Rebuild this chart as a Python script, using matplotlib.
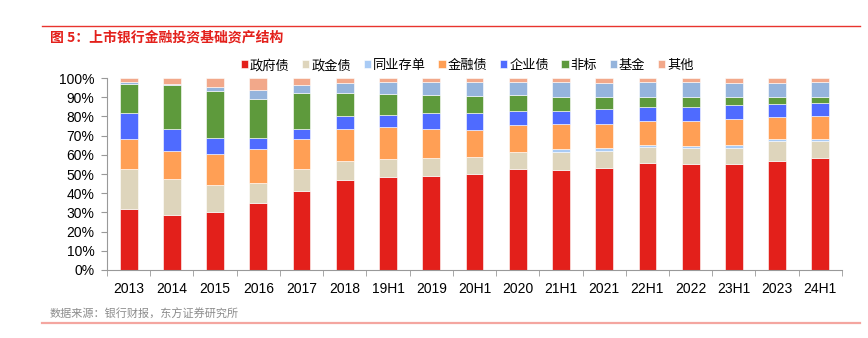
import numpy as np
import matplotlib.pyplot as plt
from matplotlib.lines import Line2D

plt.rcParams['font.family'] = ['Noto Sans CJK SC', 'DejaVu Sans']

periods = ['2013', '2014', '2015', '2016', '2017', '2018', '19H1', '2019', '20H1',
           '2020', '21H1', '2021', '22H1', '2022', '23H1', '2023', '24H1']

# share of each asset class, %
gov_bond = [32.0, 28.7, 30.3, 35.0, 41.4, 47.0, 48.2, 49.0, 49.9, 52.7, 52.3, 52.9, 55.5, 55.0, 55.0, 57.0, 58.1]
policy_bond = [20.7, 18.8, 14.0, 10.4, 11.3, 10.0, 9.7, 9.4, 8.9, 8.9, 9.1, 9.2, 8.7, 8.8, 8.8, 10.0, 9.2]
ncd = [0, 0, 0, 0, 0, 0, 0, 0, 0, 0, 1.4, 1.7, 0.8, 0.9, 1.4, 1.3, 0.9]
fin_bond = [15.8, 14.6, 16.2, 17.6, 15.6, 16.6, 16.4, 15.3, 14.4, 13.7, 13.4, 12.5, 12.6, 12.7, 13.4, 11.5, 12.3]
corp_bond = [13.2, 11.3, 8.2, 6.0, 5.3, 6.4, 6.7, 8.0, 8.4, 7.5, 6.9, 7.4, 7.3, 7.3, 7.3, 6.8, 6.5]
non_std = [15.0, 22.8, 24.7, 20.2, 18.4, 12.0, 10.7, 9.3, 9.2, 8.2, 7.3, 6.2, 5.5, 5.2, 4.2, 3.8, 2.9]
funds = [1.2, 0.7, 1.9, 4.7, 4.3, 5.2, 6.0, 6.7, 6.9, 6.9, 7.5, 7.5, 7.3, 7.8, 7.3, 7.0, 7.8]
other = [2.1, 3.1, 4.7, 6.1, 3.7, 2.8, 2.3, 2.3, 2.3, 2.1, 2.1, 2.6, 2.3, 2.3, 2.6, 2.6, 2.3]

series = [
    ('政府债', gov_bond, '#E3201B'),
    ('政金债', policy_bond, '#DED5BC'),
    ('同业存单', ncd, '#A9CBF5'),
    ('金融债', fin_bond, '#FF9F55'),
    ('企业债', corp_bond, '#4F6BFF'),
    ('非标', non_std, '#5E9A3C'),
    ('基金', funds, '#95B4DC'),
    ('其他', other, '#F2A88A'),
]

fig = plt.figure(figsize=(8.68, 3.38), dpi=100)
ax = fig.add_axes([0.1233, 0.2012, 0.8467, 0.5678])

x = np.arange(len(periods))
bottom = np.zeros(len(periods))
for name, vals, color in series:
    vals = np.array(vals) / 100
    ax.bar(x, vals, 0.41, bottom=bottom, color=color, edgecolor='white',
           linewidth=0.4, label=name)
    bottom += vals

ax.set_xlim(-0.5, len(periods) - 0.5)
ax.set_ylim(0, 1)
ax.set_yticks(np.arange(0, 1.01, 0.1))
ax.set_yticklabels([f'{int(round(v * 100))}%' for v in np.arange(0, 1.01, 0.1)],
                   family=['Liberation Sans', 'DejaVu Sans'], fontsize=10)
ax.set_xticks(x)
ax.set_xticklabels(periods, family=['Liberation Sans', 'DejaVu Sans'], fontsize=10)
ax.set_xticks(np.arange(-0.5, len(periods)), minor=True)
ax.tick_params(axis='x', which='major', length=0, pad=9)
ax.tick_params(axis='x', which='minor', length=4, color='#999999', direction='out')
ax.tick_params(axis='y', length=4, color='#999999', pad=5)
for side in ['top', 'right']:
    ax.spines[side].set_visible(False)
for side in ['left', 'bottom']:
    ax.spines[side].set_color('#999999')
    ax.spines[side].set_linewidth(0.8)

ax.legend(loc='lower center', bbox_to_anchor=(0.49, 1.0), ncol=8, frameon=False,
          fontsize=9.5, handlelength=0.55, handleheight=0.55, handletextpad=0.15,
          columnspacing=0.95, borderaxespad=0.05)

# header and footer
fig.add_artist(Line2D([42 / 868, 860 / 868], [1 - 25.5 / 338] * 2, color='#E8342E', lw=1.0))
fig.text(50 / 868, 1 - 38 / 338, '图 5：上市银行金融投资基础资产结构', color='#E3201B',
         fontsize=10, fontweight='bold', va='center')
fig.text(50 / 868, 1 - 314 / 338, '数据来源：银行财报，东方证券研究所', color='#8C8C8C',
         fontsize=8, va='center')
fig.add_artist(Line2D([42 / 868, 860 / 868], [1 - 322.5 / 338] * 2, color='#F4A6A0', lw=1.6))

fig.savefig('out.png', dpi=100)
